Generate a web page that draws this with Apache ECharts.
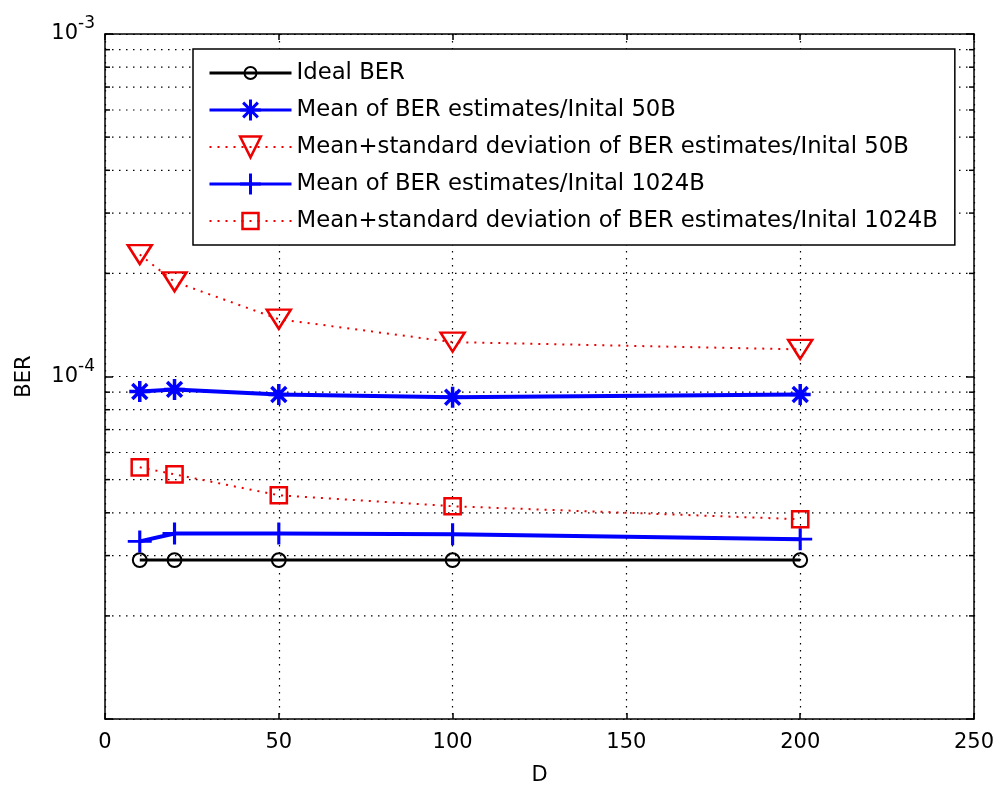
<!DOCTYPE html>
<html>
<head>
<meta charset="utf-8">
<script src="https://cdn.jsdelivr.net/npm/echarts@6/dist/echarts.min.js"></script>
<style>
  html, body { margin: 0; padding: 0; background: #fff; }
  #chart { width: 997px; height: 785px; }
</style>
</head>
<body>
<div id="chart"></div>
<script>
// Block length D on the x axis
const D = [10, 20, 50, 100, 200];

// BER curves (log-scale y axis)
const idealBer    = [2.91e-5, 2.91e-5, 2.91e-5, 2.91e-5, 2.91e-5];
const mean50      = [9.04e-5, 9.17e-5, 8.86e-5, 8.70e-5, 8.86e-5];
const meanStd50   = [2.27e-4, 1.89e-4, 1.47e-4, 1.26e-4, 1.20e-4];
const mean1024    = [3.30e-5, 3.48e-5, 3.48e-5, 3.46e-5, 3.35e-5];
const meanStd1024 = [5.43e-5, 5.18e-5, 4.50e-5, 4.18e-5, 3.83e-5];

const seriesNames = [
  'Ideal BER',
  'Mean of BER estimates/Inital 50B',
  'Mean+standard deviation of BER estimates/Inital 50B',
  'Mean of BER estimates/Inital 1024B',
  'Mean+standard deviation of BER estimates/Inital 1024B'
];

// Minor log grid values (2..9 in each decade)
const minorY = [2e-5, 3e-5, 4e-5, 5e-5, 6e-5, 7e-5, 8e-5, 9e-5,
                2e-4, 3e-4, 4e-4, 5e-4, 6e-4, 7e-4, 8e-4, 9e-4];

const BLUE = '#0000ff';
const RED = '#ee0000';
const FONT = 'DejaVu Sans';

// Marker outlines; the bare move-to points pad the bounding box so the
// drawn shape is a fraction of the symbol box (keeps legend icons small).
const STAR = 'path://M0,-10L0,10M-10,0L10,0M-7.07,-7.07L7.07,7.07M-7.07,7.07L7.07,-7.07';
const PLUS = 'path://M0,-10L0,10M-10,0L10,0';
const RING = 'path://M-10,0A10,10,0,1,1,10,0A10,10,0,1,1,-10,0ZM-17.3,-17.3M17.3,17.3';
const SQUARE = 'path://M-10,-10L10,-10L10,10L-10,10ZM-13,-13M13,13';

const pair = (ys) => D.map((x, i) => [x, ys[i]]);

const chart = echarts.init(document.getElementById('chart'), null, { renderer: 'canvas' });

const gridDash = [1.5, 5.5];

const option = {
  backgroundColor: '#fff',
  animation: false,
  textStyle: { fontFamily: FONT },
  grid: { left: 105, top: 34, right: 23, bottom: 66, containLabel: false, outerBoundsMode: 'none' },
  xAxis: [{
    type: 'value', min: 0, max: 250, interval: 50,
    name: 'D', nameLocation: 'middle', nameGap: 46,
    nameTextStyle: { fontSize: 21, color: '#000', fontFamily: FONT },
    axisLine: { show: true, onZero: false, lineStyle: { color: '#000', width: 1.5 } },
    axisTick: { show: true, inside: true, length: 6, lineStyle: { color: '#000', width: 1.5 } },
    axisLabel: { fontSize: 21, color: '#000', margin: 13, fontFamily: FONT },
    splitLine: { show: true, lineStyle: { color: '#000', width: 1.2, type: gridDash } }
  }, {
    type: 'value', min: 0, max: 250, interval: 50, position: 'top',
    axisLine: { show: true, onZero: false, lineStyle: { color: '#000', width: 1.5 } },
    axisTick: { show: true, inside: true, length: 6, lineStyle: { color: '#000', width: 1.5 } },
    axisLabel: { show: false }, splitLine: { show: false }
  }],
  yAxis: [{
    type: 'log', logBase: 10, min: 1e-5, max: 1e-3,
    name: 'BER', nameLocation: 'middle', nameGap: 70,
    nameTextStyle: { fontSize: 21, color: '#000', fontFamily: FONT },
    axisLine: { show: true, onZero: false, lineStyle: { color: '#000', width: 1.5 } },
    axisTick: { show: true, inside: true, length: 8, lineStyle: { color: '#000', width: 1.5 } },
    axisLabel: {
      margin: 10,
      formatter: (v) => {
        const e = Math.round(Math.log10(v));
        if (e <= -5) return '';
        return '{b|10}{s|' + e + '}';
      },
      rich: {
        b: { fontSize: 21, color: '#000', fontFamily: FONT },
        s: { fontSize: 17, color: '#000', fontFamily: FONT, padding: [0, 0, 20, 0] }
      }
    },
    splitLine: { show: true, lineStyle: { color: '#000', width: 1.2, type: gridDash } }
  }, {
    type: 'log', logBase: 10, min: 1e-5, max: 1e-3, position: 'right',
    axisLine: { show: true, onZero: false, lineStyle: { color: '#000', width: 1.5 } },
    axisTick: { show: true, inside: true, length: 8, lineStyle: { color: '#000', width: 1.5 } },
    axisLabel: { show: false }, splitLine: { show: false }
  }],
  legend: {
    orient: 'vertical', left: 193, top: 49,
    backgroundColor: '#fff', borderColor: '#000', borderWidth: 1.5, borderRadius: 0,
    padding: [12, 17, 12, 15],
    itemWidth: 82, itemHeight: 26, itemGap: 13,
    textStyle: { fontSize: 22.75, color: '#000', fontFamily: FONT, lineHeight: 24 },
    data: [
      { name: seriesNames[0], itemStyle: { color: 'transparent', borderColor: '#000', borderWidth: 2 }, lineStyle: { color: '#000', width: 3, type: 'solid' } },
      { name: seriesNames[1], itemStyle: { color: BLUE, borderColor: BLUE, borderWidth: 3 }, lineStyle: { color: BLUE, width: 3, type: 'solid' } },
      { name: seriesNames[2], itemStyle: { color: 'transparent', borderColor: RED, borderWidth: 2.5 }, lineStyle: { color: RED, width: 2, type: [2, 6] } },
      { name: seriesNames[3], itemStyle: { color: BLUE, borderColor: BLUE, borderWidth: 3 }, lineStyle: { color: BLUE, width: 3, type: 'solid' } },
      { name: seriesNames[4], itemStyle: { color: 'transparent', borderColor: RED, borderWidth: 2.5 }, lineStyle: { color: RED, width: 2, type: [2, 6] } }
    ]
  },
  series: [
    {
      // dotted minor grid lines of the log axis, with matching edge ticks
      type: 'custom', silent: true, z: 1,
      data: minorY.map(v => [0, v]),
      renderItem: (params, api) => {
        const cs = params.coordSys;
        const y = api.coord([0, api.value(1)])[1];
        const tick = { stroke: '#000', lineWidth: 1.5 };
        return {
          type: 'group',
          children: [
            { type: 'line', shape: { x1: cs.x, y1: y, x2: cs.x + cs.width, y2: y }, style: { stroke: '#000', lineWidth: 1.2, lineDash: gridDash } },
            { type: 'line', shape: { x1: cs.x, y1: y, x2: cs.x + 5, y2: y }, style: tick },
            { type: 'line', shape: { x1: cs.x + cs.width - 5, y1: y, x2: cs.x + cs.width, y2: y }, style: tick }
          ]
        };
      }
    },
    {
      name: seriesNames[0], type: 'line', z: 3, data: pair(idealBer),
      symbol: RING, symbolSize: 24,
      lineStyle: { color: '#000', width: 3 },
      itemStyle: { color: 'transparent', borderColor: '#000', borderWidth: 2 }
    },
    {
      name: seriesNames[1], type: 'line', z: 4, data: pair(mean50),
      symbol: STAR, symbolSize: 21,
      lineStyle: { color: BLUE, width: 4 },
      itemStyle: { color: BLUE, borderColor: BLUE, borderWidth: 3.5 }
    },
    {
      name: seriesNames[2], type: 'line', z: 4, data: pair(meanStd50),
      symbol: 'triangle', symbolRotate: 180, symbolSize: [24, 19],
      lineStyle: { color: RED, width: 2, type: [2, 6] },
      itemStyle: { color: 'transparent', borderColor: RED, borderWidth: 2.5 }
    },
    {
      name: seriesNames[3], type: 'line', z: 4, data: pair(mean1024),
      symbol: PLUS, symbolSize: [24, 22],
      lineStyle: { color: BLUE, width: 4 },
      itemStyle: { color: BLUE, borderColor: BLUE, borderWidth: 3 }
    },
    {
      name: seriesNames[4], type: 'line', z: 4, data: pair(meanStd1024),
      symbol: SQUARE, symbolSize: 21,
      lineStyle: { color: RED, width: 2, type: [2, 6] },
      itemStyle: { color: 'transparent', borderColor: RED, borderWidth: 2.5 }
    }
  ]
};

chart.setOption(option);
</script>
</body>
</html>
